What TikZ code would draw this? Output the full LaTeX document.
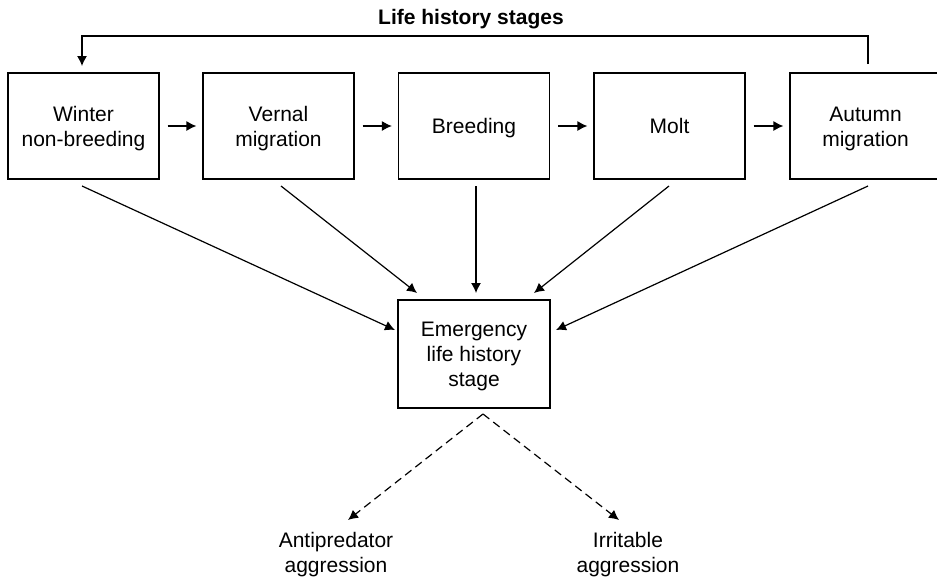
\documentclass[tikz,border=0pt]{standalone}
\usepackage{fontspec}
\setmainfont{Liberation Sans}
\usetikzlibrary{arrows.meta}
% text block whose box runs from cap top of first line to baseline of last line
\newcommand{\lblock}[2]{\raisebox{0pt}[\dimexpr 7.5pt+#1\relax][0pt]{\begin{tabular}[b]{@{}c@{}}#2\end{tabular}}}
\begin{document}
\begin{tikzpicture}[x=0.5pt,y=-0.5pt,
  stagebox/.style={draw, line width=0.6pt, minimum width=75.5pt, minimum height=53pt, align=center, inner sep=0pt, font=\fontsize{10.5}{12.5}\selectfont},
  lbl/.style={align=center, inner sep=0pt, font=\fontsize{10.5}{12.5}\selectfont},
  arr/.style={line width=0.6pt, -{Latex[length=5pt,width=5pt]}},
  darr/.style={line width=0.6pt, dash pattern=on 4pt off 2.5pt, -{Latex[length=5pt,width=5pt]}}]
\useasboundingbox (0,0) rectangle (937,580);
\clip (0,0) rectangle (937,580);
\node[font=\fontsize{10.5}{12.5}\selectfont\bfseries, inner sep=0pt] (title) at (471,17) {\lblock{0pt}{Life history stages}};
\node[stagebox] (b1) at (83.5,126) {\lblock{12.5pt}{Winter\\non-breeding}};
\node[stagebox] (b2) at (278.5,126) {\lblock{12.5pt}{Vernal\\migration}};
\node[stagebox] (b3) at (474,126) {\lblock{0pt}{Breeding}};
\node[stagebox] (b4) at (669.5,126) {\lblock{0pt}{Molt}};
\node[stagebox] (b5) at (865.5,126) {\lblock{12.5pt}{Autumn\\migration}};
\node[stagebox, minimum height=54pt, minimum width=76pt] (em) at (474,354) {\lblock{25pt}{Emergency\\life history\\stage}};
\node[lbl] (ap) at (336,552) {\lblock{12.5pt}{Antipredator\\aggression}};
\node[lbl] (ir) at (628,552) {\lblock{12.5pt}{Irritable\\aggression}};
% horizontal arrows
\foreach \a/\b in {b1/b2,b2/b3,b3/b4,b4/b5}{
  \draw[arr] ([xshift=4pt]\a.east) -- ([xshift=-3pt]\b.west);
}
% feedback loop
\coordinate (fbstart) at (868,64);
\coordinate (fbr) at (868,36);
\coordinate (fbl) at (82,36);
\coordinate (fbend) at (82,66);
\draw[arr] (fbstart) -- (fbr) -- (fbl) -- (fbend);
% into emergency stage
\coordinate (s1) at (82,186);
\coordinate (s2) at (281,186);
\coordinate (s3) at (476,186);
\coordinate (s4) at (669,186);
\coordinate (s5) at (868,186);
\coordinate (t1) at (395,330);
\coordinate (t2) at (417,293);
\coordinate (t3) at (476,293);
\coordinate (t4) at (534,293);
\coordinate (t5) at (556,330);
\foreach \i in {1,...,5}{ \draw[arr] (s\i) -- (t\i); }
% dashed outcomes
\coordinate (apex) at (483,414);
\coordinate (d1) at (348,520);
\coordinate (d2) at (619,520);
\draw[darr] (apex) -- (d1);
\draw[darr] (apex) -- (d2);
\end{tikzpicture}
\end{document}
